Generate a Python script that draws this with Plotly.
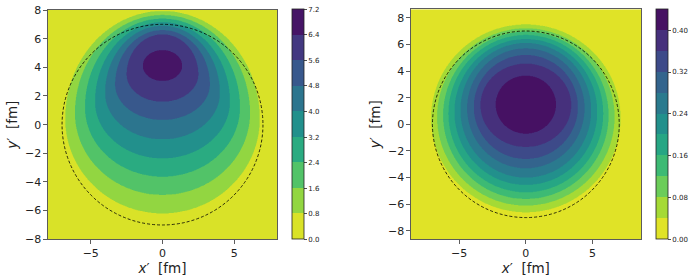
import numpy as np
import plotly.graph_objects as go
from plotly.colors import sample_colorscale

# ---------------- data ----------------
# Left panel: contour boundaries (levels) and their read geometry (fm)
L_LEVELS = [0.8, 1.6, 2.4, 3.2, 4.0, 4.8, 5.6, 6.4]
L_TOP    = [7.93, 7.65, 7.40, 7.15, 6.90, 6.60, 6.30, 5.20]
L_BOTTOM = [-6.19, -4.90, -3.63, -2.35, -1.02, 0.33, 1.60, 3.05]
L_HALFW  = [6.78, 6.10, 5.40, 4.70, 4.00, 3.30, 2.50, 1.37]
L_YWIDE  = [0.40, 0.80, 1.20, 1.60, 2.20, 2.80, 3.50, 4.10]
L_CBAR_TICKS = [0.0, 0.8, 1.6, 2.4, 3.2, 4.0, 4.8, 5.6, 6.4, 7.2]

# Right panel
R_LEVELS = [0.04, 0.08, 0.12, 0.16, 0.20, 0.24, 0.28, 0.32, 0.36, 0.40]
R_TOP    = [7.50, 7.20, 6.95, 6.70, 6.40, 6.10, 5.70, 5.20, 4.55, 3.65]
R_BOTTOM = [-6.60, -6.10, -5.60, -5.10, -4.55, -4.00, -3.30, -2.60, -1.70, -0.70]
R_HALFW  = [7.10, 6.65, 6.20, 5.80, 5.35, 4.90, 4.40, 3.90, 3.40, 2.26]
R_CBAR_TICKS = [0.00, 0.08, 0.16, 0.24, 0.32, 0.40]

NUCLEAR_RADIUS = 7.0
L_RANGE = [-8.0, 8.0]
R_RANGE = [-8.63, 8.63]
AXIS_TICKS_X = [-5, 0, 5]
AXIS_TICKS_Y = [-8, -6, -4, -2, 0, 2, 4, 6, 8]


def field(rng, levels, top, bottom, halfw, ywide, n=501):
    g = np.linspace(rng[0], rng[1], n)
    X, Y = np.meshgrid(g, g)
    step = levels[1] - levels[0]
    Z = np.full(X.shape, levels[0] - step / 2)
    for t, b, w, yw in zip(top, bottom, halfw, ywide):
        ry = np.where(Y >= yw, t - yw, yw - b)
        inside = (X / w) ** 2 + ((Y - yw) / ry) ** 2 <= 1.0
        Z = Z + step * inside
    return g, Z


def band_scale(n_bands):
    # matplotlib contourf + viridis_r: band k coloured at its midpoint
    pts = [1 - (k + 0.5) / n_bands for k in range(n_bands)]
    cols = sample_colorscale("Viridis", pts)
    return [[k / (n_bands - 1), c] for k, c in enumerate(cols)]


lg, LZ = field(L_RANGE, L_LEVELS, L_TOP, L_BOTTOM, L_HALFW, L_YWIDE)
R_YWIDE = [(t + b) / 2 for t, b in zip(R_TOP, R_BOTTOM)]
rg, RZ = field(R_RANGE, R_LEVELS, R_TOP, R_BOTTOM, R_HALFW, R_YWIDE)

l_step = L_LEVELS[1] - L_LEVELS[0]
r_step = R_LEVELS[1] - R_LEVELS[0]

FONT = "DejaVu Sans"
cb_common = dict(
    thickness=12, lenmode="fraction", len=229.5 / 278, y=1 - 239.3 / 278, yanchor="bottom",
    xanchor="left", xpad=0, ypad=0, outlinewidth=0.8, outlinecolor="#222",
    ticks="outside", ticklen=3, tickwidth=0.8, tickcolor="#222",
    tickfont=dict(size=7, color="#222", family=FONT),
)

fig = go.Figure()
fig.add_trace(go.Contour(
    x=lg, y=lg, z=LZ, xaxis="x", yaxis="y",
    zmin=L_LEVELS[0] - l_step, zmax=L_LEVELS[-1] + l_step, zauto=False,
    colorscale=band_scale(len(L_LEVELS) + 1),
    contours=dict(start=L_LEVELS[0], end=L_LEVELS[-1], size=l_step, coloring="fill"),
    line=dict(width=0), showscale=True, hoverinfo="skip",
    colorbar=dict(cb_common, x=292 / 693, tickvals=L_CBAR_TICKS, tickformat=".1f"),
))
fig.add_trace(go.Contour(
    x=rg, y=rg, z=RZ, xaxis="x2", yaxis="y2",
    zmin=R_LEVELS[0] - r_step, zmax=R_LEVELS[-1] + r_step, zauto=False,
    colorscale=band_scale(len(R_LEVELS) + 1),
    contours=dict(start=R_LEVELS[0], end=R_LEVELS[-1], size=r_step, coloring="fill"),
    line=dict(width=0), showscale=True, hoverinfo="skip",
    colorbar=dict(cb_common, x=656 / 693, tickvals=R_CBAR_TICKS, tickformat=".2f"),
))

for xa, ya in (("x", "y"), ("x2", "y2")):
    fig.add_shape(type="circle", xref=xa, yref=ya,
                  x0=-NUCLEAR_RADIUS, x1=NUCLEAR_RADIUS, y0=-NUCLEAR_RADIUS, y1=NUCLEAR_RADIUS,
                  line=dict(color="black", width=0.8, dash="3px,2px"))

ax_common = dict(
    showgrid=False, zeroline=False, showline=True, mirror=True,
    linecolor="#333", linewidth=0.8, ticks="outside", ticklen=3.5, tickwidth=0.8,
    tickcolor="#333", tickfont=dict(size=11, color="#222", family=FONT),
    automargin=False,
)
fig.update_layout(
    width=693, height=278,
    margin=dict(l=0, r=0, t=0, b=0, autoexpand=False),
    paper_bgcolor="white", plot_bgcolor="white",
    font=dict(family=FONT, color="#222"),
    showlegend=False,
    xaxis=dict(ax_common, domain=[47.7 / 693, 277.3 / 693], range=L_RANGE,
               tickvals=AXIS_TICKS_X, anchor="y",
               title=dict(text="<i>x</i>′  [fm]", font=dict(size=13.5), standoff=2)),
    yaxis=dict(ax_common, domain=[1 - 239.3 / 278, 1 - 10 / 278], range=L_RANGE,
               tickvals=AXIS_TICKS_Y, anchor="x",
               title=dict(text="<i>y</i>′  [fm]", font=dict(size=13.5), standoff=4)),
    xaxis2=dict(ax_common, domain=[410.7 / 693, 641 / 693], range=R_RANGE,
                tickvals=AXIS_TICKS_X, anchor="y2",
                title=dict(text="<i>x</i>′  [fm]", font=dict(size=13.5), standoff=2)),
    yaxis2=dict(ax_common, domain=[1 - 239.3 / 278, 1 - 9.3 / 278], range=R_RANGE,
                tickvals=AXIS_TICKS_Y, anchor="x2",
                title=dict(text="<i>y</i>′  [fm]", font=dict(size=13.5), standoff=4)),
)

fig.write_html(
    "out.html",
    config={"displayModeBar": False, "staticPlot": True},
    post_script="document.body.style.margin='0';document.body.style.overflow='hidden';",
)
